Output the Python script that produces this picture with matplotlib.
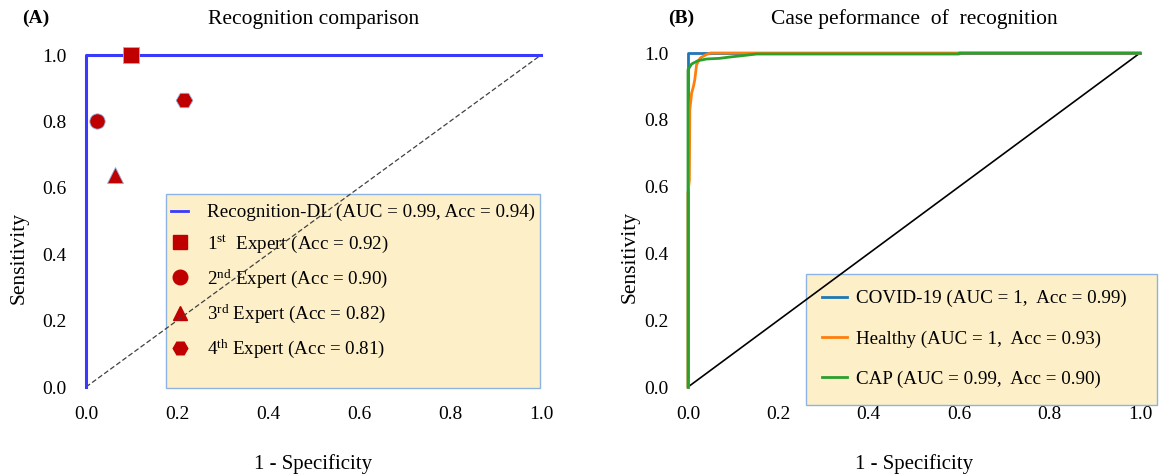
import matplotlib
matplotlib.use("Agg")
import matplotlib.pyplot as plt
from matplotlib.lines import Line2D
from matplotlib.patches import Rectangle

plt.rcParams['font.family'] = ['Liberation Serif', 'DejaVu Serif']
plt.rcParams['mathtext.fontset'] = 'custom'
plt.rcParams['mathtext.rm'] = 'Liberation Serif'
plt.rcParams['mathtext.it'] = 'Liberation Serif:italic'

# ---------------- data: panel A ----------------
dl_fpr = [0.0, 0.0, 1.0]
dl_tpr = [0.0, 1.0, 1.0]
diag = [0.0, 1.0]
expert_fpr = [0.099, 0.024, 0.064, 0.215]
expert_tpr = [1.0, 0.80, 0.64, 0.865]
expert_markers = ['s', 'o', '^', 'H']
expert_labels = [r'1$^{\mathrm{st}}$  Expert (Acc = 0.92)',
                 r'2$^{\mathrm{nd}}$ Expert (Acc = 0.90)',
                 r'3$^{\mathrm{rd}}$ Expert (Acc = 0.82)',
                 r'4$^{\mathrm{th}}$ Expert (Acc = 0.81)']
dl_label = 'Recognition-DL (AUC = 0.99, Acc = 0.94)'

# ---------------- data: panel B ----------------
covid_fpr = [0.0, 0.0, 0.0, 1.0]
covid_tpr = [0.0, 0.95, 1.0, 1.0]
healthy_fpr = [0.0, 0.0, 0.003, 0.004, 0.008, 0.012, 0.015, 0.019, 0.027, 0.04, 0.05, 0.6, 1.0]
healthy_tpr = [0.0, 0.58, 0.62, 0.83, 0.88, 0.90, 0.92, 0.965, 0.985, 0.995, 1.0, 1.0, 1.0]
cap_fpr = [0.0, 0.0, 0.008, 0.022, 0.041, 0.07, 0.093, 0.12, 0.152, 0.19, 0.6, 0.6, 1.0]
cap_tpr = [0.0, 0.95, 0.967, 0.977, 0.982, 0.984, 0.988, 0.992, 0.997, 0.997, 0.997, 1.0, 1.0]
b_labels = ['COVID-19 (AUC = 1,  Acc = 0.99)',
            'Healthy (AUC = 1,  Acc = 0.93)',
            'CAP (AUC = 0.99,  Acc = 0.90)']

ticks = [0.0, 0.2, 0.4, 0.6, 0.8, 1.0]
tick_labels = ['0.0', '0.2', '0.4', '0.6', '0.8', '1.0']

fig = plt.figure(figsize=(11.63, 4.74), dpi=100)
axA = fig.add_axes([86/1163, 1-387/474, 455/1163, 332/474])
axB = fig.add_axes([688/1163, 1-387/474, 452/1163, 334/474])

legend_face = '#FDF0C9'
legend_edge = '#8DB3E2'

def style(ax, ylab_x):
    ax.set_xlim(0, 1)
    ax.set_ylim(0, 1)
    for s in ax.spines.values():
        s.set_visible(False)
    ax.set_xticks(ticks)
    ax.set_xticklabels(tick_labels)
    ax.set_yticks(ticks)
    ax.set_yticklabels(tick_labels)
    ax.tick_params(axis='both', length=0, labelsize=14)
    ax.tick_params(axis='x', pad=14)
    ax.tick_params(axis='y', pad=14)
    ax.set_xlabel('1 - Specificity', fontsize=15, labelpad=22)
    ax.set_ylabel('Sensitivity', fontsize=15.5)
    ax.yaxis.set_label_coords(ylab_x, 0.39)

def legend_box(ax, x0, y0, x1, y1):
    r = Rectangle((x0, y0), x1 - x0, y1 - y0, transform=ax.transAxes,
                  facecolor=legend_face, edgecolor=legend_edge, lw=1.0,
                  zorder=1, clip_on=False)
    ax.add_patch(r)

# ---------------- Panel A ----------------
style(axA, -0.127)
legend_box(axA, (166-86)/455, -0.003, (540-86)/455, (387-194)/332)
axA.plot(diag, diag, color='#404040', lw=0.9, ls=(0, (4, 2)), zorder=3, clip_on=False)
axA.plot(dl_fpr, dl_tpr, color='#3a3aff', lw=2.2, zorder=3, clip_on=False,
         solid_joinstyle='round')
for x, y, m in zip(expert_fpr, expert_tpr, expert_markers):
    ms = 12 if m in ('s', 'H') else 11
    axA.plot([x], [y], marker=m, ms=ms, color='#C00000', mec='#8DB3E2', mew=0.6,
             ls='none', zorder=4, clip_on=False)

hA = [Line2D([], [], color='#3a3aff', lw=2)]
for m in expert_markers:
    hA.append(Line2D([], [], marker=m, ms=10.5, color='#C00000', mec='#C00000', ls='none'))
legA = axA.legend(hA, [dl_label] + expert_labels, loc='upper left',
                  bbox_to_anchor=((171-86)/455, (387-204)/332), fontsize=13.7, frameon=False,
                  handlelength=0.9, handletextpad=1.0,
                  labelspacing=0.66, borderpad=0.0, borderaxespad=0)
legA.set_zorder(2)

axA.set_title('Recognition comparison', fontsize=15.5, pad=22)
fig.text(22/1163, 1-18/474, '(A)', fontsize=14, fontweight='bold', va='center', ha='left')

# ---------------- Panel B ----------------
style(axB, -0.108)
legend_box(axB, (806-688)/452, (387-405)/334, (1157-688)/452, (387-274)/334)
axB.plot(diag, diag, color='black', lw=1.2, zorder=3, clip_on=False)
axB.plot(covid_fpr, covid_tpr, color='#1f77b4', lw=2, zorder=3, clip_on=False)
axB.plot(healthy_fpr, healthy_tpr, color='#ff7f0e', lw=2, zorder=3, clip_on=False)
axB.plot(cap_fpr, cap_tpr, color='#2ca02c', lw=2, zorder=3, clip_on=False)

hB = [Line2D([], [], color=c, lw=2) for c in ('#1f77b4', '#ff7f0e', '#2ca02c')]
legB = axB.legend(hB, b_labels, loc='upper left',
                  bbox_to_anchor=((822-688)/452, (387-290)/334),
                  fontsize=13.7, frameon=False,
                  handlelength=1.3, handletextpad=0.5, labelspacing=1.2,
                  borderpad=0.0, borderaxespad=0)
legB.set_zorder(2)

axB.set_title('Case peformance  of  recognition', fontsize=15.5, pad=21)
fig.text(668/1163, 1-18/474, '(B)', fontsize=14, fontweight='bold', va='center', ha='left')

fig.savefig('out.png', dpi=100)
